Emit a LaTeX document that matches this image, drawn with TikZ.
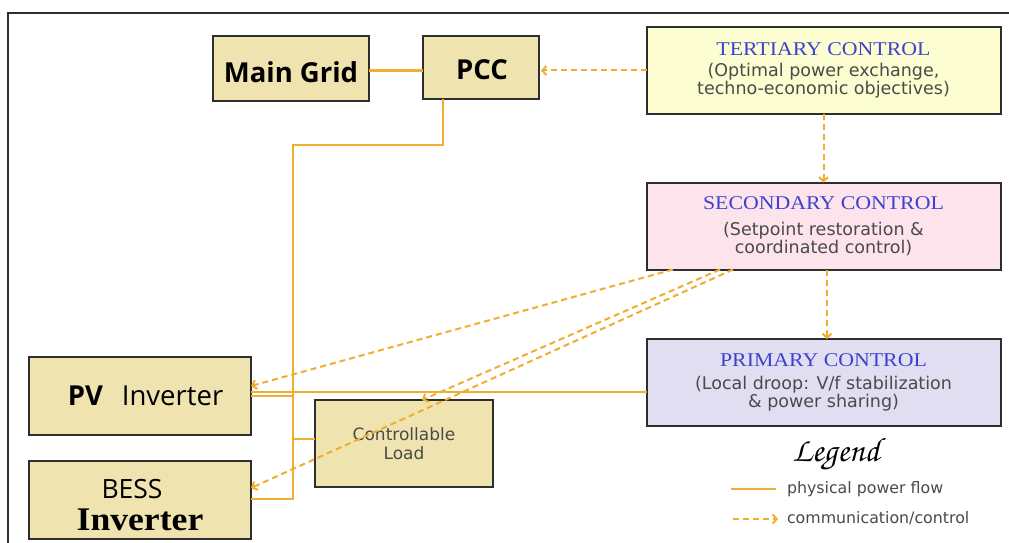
\documentclass[tikz,border=0pt]{standalone}
\usepackage{fontspec}
\setmainfont{Liberation Serif}
\setsansfont{DejaVu Sans}
\newfontfamily\osans{Open Sans}
\newfontfamily\dvs{DejaVu Sans}
\newfontfamily\lserif{Liberation Serif}
\usetikzlibrary{arrows.meta}
\definecolor{boxtan}{HTML}{EFE3AF}
\definecolor{tertfill}{HTML}{FDFDD2}
\definecolor{secfill}{HTML}{FDE4EC}
\definecolor{primfill}{HTML}{E1DEF2}
\definecolor{pwr}{HTML}{EFAE2F}
\definecolor{ttlblue}{HTML}{3D43CF}
\definecolor{txtgray}{HTML}{4A4A4A}
\definecolor{edge}{HTML}{2E2E2E}
\tikzset{
  box/.style={draw=edge, line width=2pt, inner sep=0pt, outer sep=0pt, align=center},
  tanbox/.style={box, fill=boxtan},
  ctrlbox/.style={box, minimum width=354pt, minimum height=87pt},
  power/.style={draw=pwr, line width=2.5pt},
  comm/.style={draw=pwr, line width=2pt, dash pattern=on 6pt off 4pt, -{Straight Barb[length=4pt,width=9pt]}},
  plain/.style={inner sep=0pt, outer sep=0pt},
}
\newcommand{\ctitlef}{\lserif\fontsize{19.5}{19}\selectfont\color{ttlblue}}
\newcommand{\cbodyf}{\dvs\fontsize{17.5}{19}\selectfont\color{txtgray}}
\newcommand{\ctitle}[1]{\scalebox{1.12}[1]{\ctitlef #1}}
\begin{document}
\begin{tikzpicture}[x=1pt, y=-1pt]
\useasboundingbox (0,0) rectangle (1009,543);
\fill[white] (0,0) rectangle (1009,543);
% frame
\coordinate (f1) at (8,543);
\coordinate (f2) at (8,13);
\coordinate (f3) at (1009,13);
\draw[edge, line width=2pt] (f1) -- (f2) -- (f3);

% nodes
\node[tanbox, minimum width=156pt, minimum height=65pt] (mg) at (291,68.5) {};
\node[plain, font=\osans\bfseries\fontsize{27.5}{30}\selectfont] (mgt) at (291,72) {Main Grid};
\node[tanbox, minimum width=116pt, minimum height=63pt] (pcc) at (481,67.5) {};
\node[plain, font=\osans\bfseries\fontsize{27.5}{30}\selectfont] (pcct) at (482,70) {PCC};
\node[ctrlbox, fill=tertfill] (tert) at (823.5,70.5)
  {\ctitle{TERTIARY CONTROL}\\[6pt]\cbodyf (Optimal power exchange,\\\cbodyf techno-economic objectives)};
\node[ctrlbox, fill=secfill] (sec) at (823.5,226)
  {\ctitle{SECONDARY CONTROL}\\[11pt]\cbodyf (Setpoint restoration \&\\\cbodyf coordinated control)};
\node[ctrlbox, fill=primfill] (prim) at (823.5,382.5)
  {\ctitle{PRIMARY CONTROL}\\[8.5pt]\cbodyf (Local droop: V/f stabilization\\\cbodyf \& power sharing)};
\node[tanbox, minimum width=222pt, minimum height=78pt, font=\osans\fontsize{27.5}{30}\selectfont] (pv) at (140,396)
  {\hspace{11pt}\textbf{PV}\hspace{19pt}Inverter};
\node[tanbox, minimum width=222pt, minimum height=78pt] (bess) at (140,500) {};
\node[plain, font=\osans\fontsize{26.5}{28}\selectfont] (bess1) at (132,489) {BESS};
\node[plain, font=\lserif\bfseries\fontsize{33}{33}\selectfont] (bess2) at (140,520) {\scalebox{1.08}[1]{Inverter}};
\node[tanbox, minimum width=178pt, minimum height=87pt, font=\dvs\fontsize{17}{19}\selectfont, text=txtgray] (load) at (404,443.5)
  {Controllable\\Load};

% power lines
\coordinate (b1) at (443,145);
\coordinate (b2) at (293,145);
\coordinate (b3) at (293,499);
\coordinate (l1) at (293,439);
\coordinate (p1) at (251,392);
\coordinate (m1) at (369,70.7);
\draw[power] (m1) -- (m1 -| pcc.west);
\draw[power] (pcc.south -| b1) -- (b1) -- (b2) -- (b3) -- (b3 -| bess.east);
\draw[power] (pv.east) -- (pv.east -| b2);
\draw[power] (l1) -- (l1 -| load.west);
\draw[power] (p1) -- (p1 -| prim.west);

% communication
\draw[comm, shorten >=2pt] (tert.west) -- (tert.west -| pcc.east);
\draw[comm] (tert.south) -- (sec.north);
\draw[comm] ([xshift=3.5pt]sec.south) -- ([xshift=3.5pt]sec.south |- prim.north);
\draw[comm] ([xshift=-150.5pt]sec.south) -- ([yshift=10pt]pv.east);
\draw[comm] ([xshift=-103.5pt]sec.south) -- ([xshift=18pt]load.north);
\draw[comm] ([xshift=-90.5pt]sec.south) -- ([yshift=12pt]bess.east);

% legend
\node (leg) at (836,455) {\fontsize{34}{34}\selectfont\usefont{T1}{pzc}{m}{it}Legend};
\coordinate (ls1) at (731,489);
\coordinate (ls2) at (776,489);
\coordinate (lc1) at (733,519);
\coordinate (lc2) at (778,519);
\draw[power] (ls1) -- (ls2);
\draw[comm] (lc1) -- (lc2);
\node[anchor=west, plain, font=\dvs\fontsize{15.8}{18}\selectfont, text=txtgray] (lt1) at (787,489) {physical power flow};
\node[anchor=west, plain, font=\dvs\fontsize{15.8}{18}\selectfont, text=txtgray] (lt2) at (787,518) {communication/control};
\end{tikzpicture}
\end{document}
